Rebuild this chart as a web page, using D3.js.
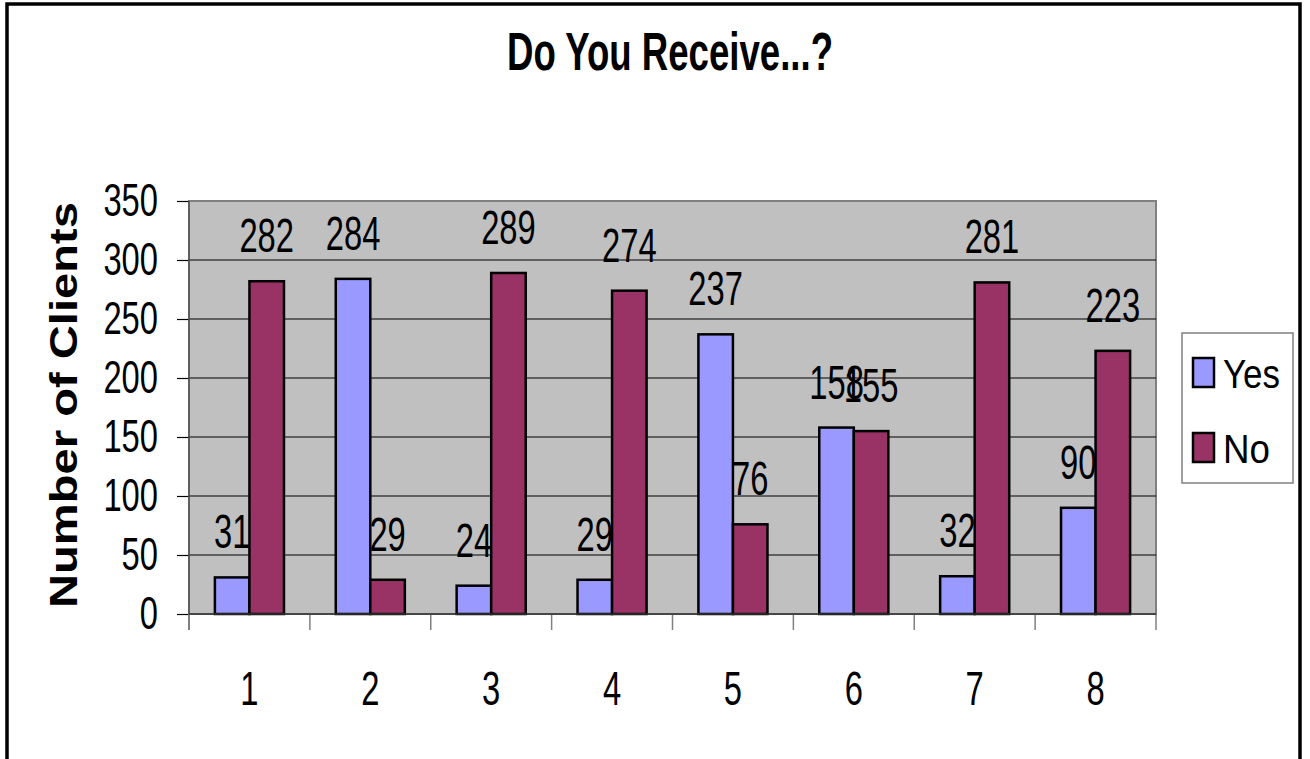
<!DOCTYPE html>
<html>
<head>
<meta charset="utf-8">
<script src="https://cdn.jsdelivr.net/npm/d3@7"></script>
<style>
  html, body { margin: 0; padding: 0; background: #fff; }
  svg { display: block; }
  text { font-family: "Liberation Sans", Arial, sans-serif; fill: #000; }
</style>
</head>
<body>
<svg id="chart" width="1310" height="759"></svg>
<script>
const categories = ["1", "2", "3", "4", "5", "6", "7", "8"];
const seriesNames = ["Yes", "No"];
const yesValues = [31, 284, 24, 29, 237, 158, 32, 90];
const noValues = [282, 29, 289, 274, 76, 155, 281, 223];
const yTicks = [0, 50, 100, 150, 200, 250, 300, 350];
const colors = { Yes: "#9999FF", No: "#993366" };
const titleText = "Do You Receive...?";
const yLabelText = "Number of Clients";

const svg = d3.select("#chart");
const plot = { left: 189, right: 1156, top: 201, bottom: 614 };
const digitW = 18.2;

function fit(sel, len) {
  sel.attr("textLength", len).attr("lengthAdjust", "spacingAndGlyphs");
}

// outer border
svg.append("rect").attr("x", 7).attr("y", 4).attr("width", 1293).attr("height", 820)
  .attr("fill", "#fff").attr("stroke", "#000").attr("stroke-width", 3.5);

const x0 = d3.scaleBand().domain(categories).range([plot.left, plot.right]);
const x1 = d3.scaleBand().domain(seriesNames).range([0, x0.bandwidth()]).paddingInner(0).paddingOuter(0.75);
const y = d3.scaleLinear().domain([0, 350]).range([plot.bottom, plot.top]);

// plot background
svg.append("rect").attr("x", plot.left).attr("y", plot.top)
  .attr("width", plot.right - plot.left).attr("height", plot.bottom - plot.top)
  .attr("fill", "#C0C0C0").attr("stroke", "#808080").attr("stroke-width", 2);

// gridlines
svg.append("g").selectAll("line").data(yTicks.filter(t => t > 0 && t < 350)).join("line")
  .attr("x1", plot.left).attr("x2", plot.right)
  .attr("y1", d => y(d)).attr("y2", d => y(d))
  .attr("stroke", "#000").attr("stroke-width", 1);

// y axis
const yAxis = svg.append("g").attr("transform", `translate(${plot.left},0)`)
  .call(d3.axisLeft(y).tickValues(yTicks).tickSize(12).tickPadding(19).tickFormat(d3.format("d")));
yAxis.select(".domain").remove();
yAxis.selectAll(".tick line").attr("stroke", "#000").attr("stroke-width", 1.2);
yAxis.selectAll(".tick text").attr("font-size", 46).attr("font-family", "Liberation Sans, Arial, sans-serif")
  .attr("fill", "#000").each(function(d) { fit(d3.select(this), String(d).length * digitW); });

// left axis line
svg.append("line").attr("x1", plot.left).attr("x2", plot.left).attr("y1", plot.top).attr("y2", plot.bottom + 16)
  .attr("stroke", "#555").attr("stroke-width", 1.5);

// category boundary ticks
const bounds = categories.map(c => x0(c)).concat([x0(categories[categories.length - 1]) + x0.bandwidth()]);
svg.append("g").selectAll("line").data(bounds).join("line")
  .attr("x1", d => d).attr("x2", d => d).attr("y1", plot.bottom).attr("y2", plot.bottom + 16)
  .attr("stroke", "#808080").attr("stroke-width", 1.5);

// x axis labels
const xAxis = svg.append("g").attr("transform", `translate(0,${plot.bottom})`)
  .call(d3.axisBottom(x0).tickSize(0).tickPadding(57));
xAxis.select(".domain").remove();
xAxis.selectAll(".tick text").attr("font-size", 48).attr("font-family", "Liberation Sans, Arial, sans-serif")
  .attr("fill", "#000").each(function(d) { fit(d3.select(this), String(d).length * digitW); });

// bars
const data = categories.map((c, i) => ({ cat: c, values: [
  { key: "Yes", value: yesValues[i] }, { key: "No", value: noValues[i] } ] }));

const groups = svg.append("g").selectAll("g").data(data).join("g")
  .attr("transform", d => `translate(${x0(d.cat)},0)`);

groups.selectAll("rect").data(d => d.values).join("rect")
  .attr("x", d => x1(d.key)).attr("width", x1.bandwidth())
  .attr("y", d => y(d.value)).attr("height", d => y(0) - y(d.value))
  .attr("fill", d => colors[d.key]).attr("stroke", "#000").attr("stroke-width", 2.5);

// bottom axis line
svg.append("line").attr("x1", plot.left).attr("x2", plot.right).attr("y1", plot.bottom).attr("y2", plot.bottom)
  .attr("stroke", "#333").attr("stroke-width", 1.5);

// data labels
groups.selectAll("text.lbl").data(d => d.values).join("text").attr("class", "lbl")
  .attr("x", d => x1(d.key) + x1.bandwidth() / 2).attr("y", d => y(d.value) - 29)
  .attr("text-anchor", "middle").attr("font-size", 48)
  .text(d => d.value)
  .each(function(d) { fit(d3.select(this), String(d.value).length * digitW); });

// title
svg.append("text").attr("x", 670).attr("y", 70).attr("text-anchor", "middle")
  .attr("font-size", 53).attr("font-weight", "bold").text(titleText)
  .call(fit, 326);

// y label
svg.append("text").attr("transform", `translate(77,405) rotate(-90)`).attr("text-anchor", "middle")
  .attr("font-size", 38).attr("font-weight", "bold").text(yLabelText)
  .call(fit, 406);

// legend
const legend = svg.append("g");
legend.append("rect").attr("x", 1182).attr("y", 333).attr("width", 111).attr("height", 150)
  .attr("fill", "#fff").attr("stroke", "#808080").attr("stroke-width", 1.5);
const legendRows = legend.selectAll("g").data(seriesNames).join("g")
  .attr("transform", (d, i) => `translate(1193,${358 + i * 75})`);
legendRows.append("rect").attr("width", 21).attr("height", 29)
  .attr("fill", d => colors[d]).attr("stroke", "#000").attr("stroke-width", 2.5);
legendRows.append("text").attr("x", 30).attr("y", 30).attr("font-size", 40).text(d => d)
  .each(function(d) { fit(d3.select(this), d === "Yes" ? 57 : 47); });
</script>
</body>
</html>
